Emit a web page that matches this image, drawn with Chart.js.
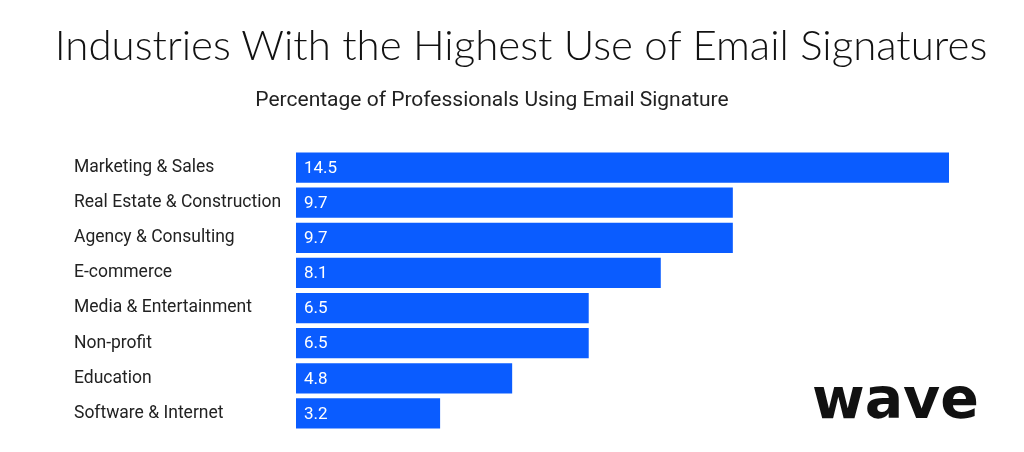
<!DOCTYPE html>
<html>
<head>
<meta charset="utf-8">
<script src="https://cdn.jsdelivr.net/npm/chart.js@4"></script>
<style>
  body { margin: 0; background: #fff; }
  #wrap { position: relative; width: 1024px; height: 452px; overflow: hidden; }
  #title { position: absolute; left: 0; width: 1042px; top: 19px; text-align: center;
           font-family: "Lato", sans-serif; font-weight: 300; font-size: 42px; color: #111; white-space: nowrap; }
  #subtitle { position: absolute; left: 0; width: 984px; top: 87px; text-align: center;
              font-family: "Roboto", sans-serif; font-size: 21px; color: #222; }
  #logo { position: absolute; left: 812px; top: 370px; line-height: 1; font-family: "DejaVu Sans", sans-serif;
          font-weight: bold; font-size: 57px; color: #111; }
</style>
</head>
<body>
<div id="wrap">
  <canvas id="chart" width="1024" height="452"></canvas>
  <div id="title">Industries With the Highest Use of Email Signatures</div>
  <div id="subtitle">Percentage of Professionals Using Email Signature</div>
  <div id="logo">wave</div>
</div>
<script>
let industries = ["Marketing & Sales", "Real Estate & Construction", "Agency & Consulting", "E-commerce",
    "Media & Entertainment", "Non-profit", "Education", "Software & Internet"];
let percentages = [14.5, 9.7, 9.7, 8.1, 6.5, 6.5, 4.8, 3.2];

// write the value inside each bar, near its start
let valueLabels = {
    id: "valueLabels",
    afterDatasetsDraw(chart) {
        let ctx = chart.ctx;
        ctx.save();
        ctx.fillStyle = "#ffffff";
        ctx.font = "17px Roboto";
        ctx.textBaseline = "middle";
        chart.getDatasetMeta(0).data.forEach((bar, i) => {
            ctx.fillText(percentages[i].toFixed(1), bar.base + 8, bar.y + 1);
        });
        ctx.restore();
    }
};

let ctx = document.getElementById("chart").getContext("2d");
new Chart(ctx, {
    type: "bar",
    data: {
        labels: industries,
        datasets: [{
            data: percentages,
            backgroundColor: "#0a5cff",
            borderWidth: 0,
            categoryPercentage: 1,
            barPercentage: 0.86
        }]
    },
    options: {
        indexAxis: "y",
        responsive: false,
        animation: false,
        layout: { padding: { left: 74, right: 75, top: 150, bottom: 21 } },
        plugins: { legend: { display: false }, tooltip: { enabled: false } },
        scales: {
            x: { display: false, min: 0, max: 14.5 },
            y: {
                grid: { display: false },
                border: { display: false },
                ticks: { crossAlign: "far", color: "#222", padding: 0, font: { family: "Roboto", size: 17.5 } },
                afterFit(scale) { scale.width = 222; }
            }
        }
    },
    plugins: [valueLabels]
});
</script>
</body>
</html>
